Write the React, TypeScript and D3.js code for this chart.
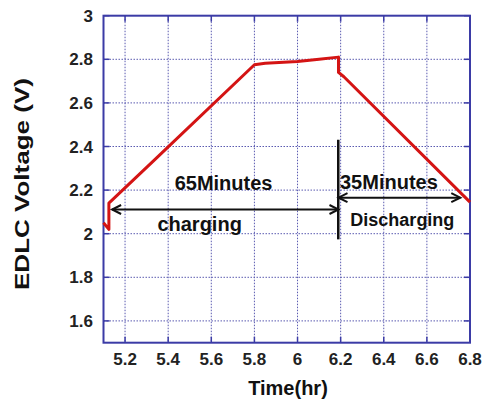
import React from "react";
import * as d3 from "d3";

const timeHr = [5.1, 5.125, 5.125, 5.338, 5.8, 5.85, 6.0, 6.1, 6.19, 6.19, 6.215, 6.8];
const voltage = [2.05, 2.02, 2.14, 2.34, 2.775, 2.782, 2.79, 2.8, 2.81, 2.74, 2.72, 2.145];

const xTicks = [5.2, 5.4, 5.6, 5.8, 6, 6.2, 6.4, 6.6, 6.8];
const yTicks = [1.6, 1.8, 2, 2.2, 2.4, 2.6, 2.8, 3];

const arrows = [
  { x1: 5.14, x2: 6.19, y: 2.111 },
  { x1: 6.19, x2: 6.755, y: 2.165 },
];
const divider = { x: 6.189, y1: 2.431, y2: 1.974 };
const labels = [
  { text: "65Minutes", x: 5.43, y: 2.202, size: 20 },
  { text: "charging", x: 5.35, y: 2.012, size: 20 },
  { text: "35Minutes", x: 6.197, y: 2.203, size: 20 },
  { text: "Discharging", x: 6.245, y: 2.035, size: 18 },
];

const W = 482, H = 403;
const L = 103.5, R = 470, T = 15.7, B = 342.7;

export default function App() {
  const x = d3.scaleLinear().domain([5.1, 6.8]).range([L, R]);
  const y = d3.scaleLinear().domain([1.5, 3]).range([B, T]);
  const line = d3.line<number>().x((_, i) => x(timeHr[i])).y((d) => y(d));
  const frame = "#3b3ba6";
  const grid = "#5a5ab0";
  const font = "Arial, 'Liberation Sans', sans-serif";
  const head = (tx: number, ty: number, dir: number) =>
    `M${tx - dir * 9},${ty - 4.5} L${tx},${ty} L${tx - dir * 9},${ty + 4.5}`;
  return (
    <svg width={W} height={H} style={{ position: "absolute", left: 0, top: 0, background: "#fff" }}>
      <rect x={0} y={0} width={W} height={H} fill="#fff" />
      {xTicks.filter((t) => t < 6.8).map((t) => (
        <line key={"gx" + t} x1={x(t)} x2={x(t)} y1={T} y2={B} stroke={grid} strokeWidth={1} strokeDasharray="1.5,1.5" />
      ))}
      {yTicks.filter((t) => t < 3).map((t) => (
        <line key={"gy" + t} x1={L} x2={R} y1={y(t)} y2={y(t)} stroke={grid} strokeWidth={1} strokeDasharray="1.5,1.5" />
      ))}
      {xTicks.map((t) => (
        <g key={"tx" + t}>
          <line x1={x(t)} x2={x(t)} y1={B} y2={B - 6} stroke={frame} strokeWidth={1.5} />
          <line x1={x(t)} x2={x(t)} y1={T} y2={T + 6} stroke={frame} strokeWidth={1.5} />
          <text x={x(t)} y={B + 22} textAnchor="middle" fontFamily={font} fontWeight="bold" fontSize={17} fill="#222">{t}</text>
        </g>
      ))}
      {yTicks.map((t) => (
        <g key={"ty" + t}>
          <line x1={L} x2={L + 6} y1={y(t)} y2={y(t)} stroke={frame} strokeWidth={1.5} />
          <line x1={R} x2={R - 6} y1={y(t)} y2={y(t)} stroke={frame} strokeWidth={1.5} />
          <text x={93} y={y(t) + 6} textAnchor="end" fontFamily={font} fontWeight="bold" fontSize={17} fill="#222">{t}</text>
        </g>
      ))}
      <rect x={L} y={T} width={R - L} height={B - T} fill="none" stroke={frame} strokeWidth={2} />
      <path d={line(voltage) || ""} fill="none" stroke="#d41414" strokeWidth={3} strokeLinejoin="round" />
      {arrows.map((a, i) => (
        <g key={"a" + i} stroke="#111" strokeWidth={2} fill="none">
          <line x1={x(a.x1)} x2={x(a.x2)} y1={y(a.y)} y2={y(a.y)} />
          <path d={head(x(a.x1), y(a.y), -1)} />
          <path d={head(x(a.x2), y(a.y), 1)} />
        </g>
      ))}
      <line x1={x(divider.x)} x2={x(divider.x)} y1={y(divider.y1)} y2={y(divider.y2)} stroke="#111" strokeWidth={2.5} />
      {labels.map((l) => (
        <text key={l.text} x={x(l.x)} y={y(l.y)} fontFamily={font} fontWeight="bold" fontSize={l.size} fill="#111">{l.text}</text>
      ))}
      <text x={288} y={395} textAnchor="middle" fontFamily={font} fontWeight="bold" fontSize={20} fill="#111">Time(hr)</text>
      <text transform="translate(28.5,184) rotate(-90)" textAnchor="middle" fontFamily={font} fontWeight="bold" fontSize={21} textLength={212} lengthAdjust="spacingAndGlyphs" fill="#111">EDLC Voltage (V)</text>
    </svg>
  );
}
